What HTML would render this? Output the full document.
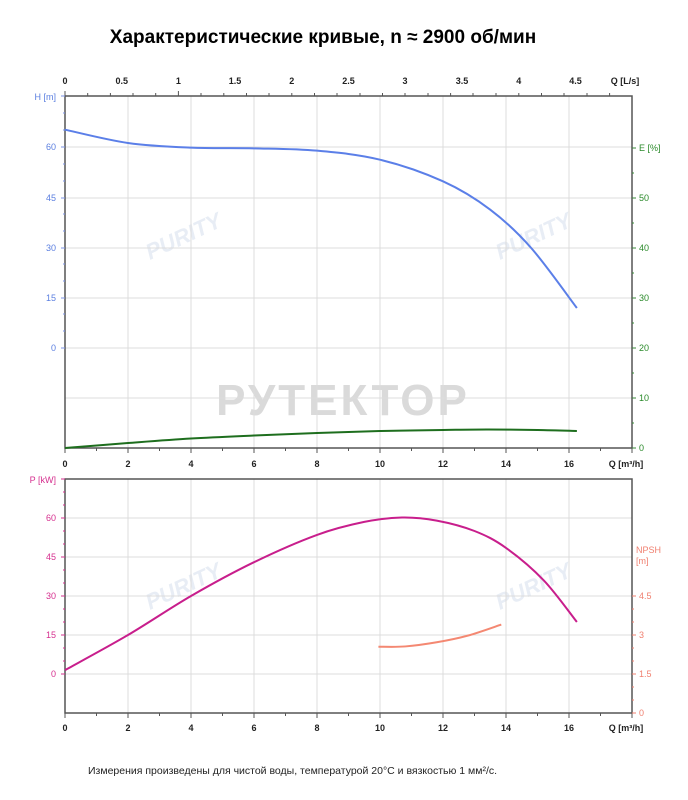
<!DOCTYPE html>
<html><head><meta charset="utf-8"><style>
body{margin:0;background:#fff;width:688px;height:800px;overflow:hidden}
svg{display:block;font-family:"Liberation Sans",sans-serif}
</style></head><body>
<svg width="688" height="800" viewBox="0 0 688 800">
<text x="323" y="43" text-anchor="middle" font-size="19" font-weight="bold" fill="#000">Характеристические кривые, n ≈ 2900 об/мин</text>
<text x="343" y="415" text-anchor="middle" font-size="44" font-weight="bold" fill="#dadada" letter-spacing="3">РУТЕКТОР</text>
<g fill="#e8edf5" font-size="22" font-weight="bold" font-style="italic">
<text x="150" y="260" transform="rotate(-25 150 260)">PURITY</text>
<text x="500" y="260" transform="rotate(-25 500 260)">PURITY</text>
<text x="150" y="610" transform="rotate(-25 150 610)">PURITY</text>
<text x="500" y="610" transform="rotate(-25 500 610)">PURITY</text>
</g>
<g stroke="#dcdcdc" stroke-width="1">
<path d="M128 96V448M191 96V448M254 96V448M317 96V448M380 96V448M443 96V448M506 96V448M569 96V448"/>
<path d="M65 147H632M65 198H632M65 248H632M65 298H632M65 348H632M65 398H632"/>
<path d="M128 479V713M191 479V713M254 479V713M317 479V713M380 479V713M443 479V713M506 479V713M569 479V713"/>
<path d="M65 518H632M65 557H632M65 596H632M65 635H632M65 674H632"/>
</g>
<g fill="none" stroke="#555" stroke-width="1.5">
<rect x="65" y="96" width="567" height="352"/>
<rect x="65" y="479" width="567" height="234"/>
</g>
<g stroke="#555" stroke-width="1">
<path d="M65 96v-5M87.7 96v-3M110.4 96v-3M133 96v-3M155.7 96v-3M178.4 96v-5M201 96v-3M223.8 96v-3M246.5 96v-3M269 96v-3M291.8 96v-3M314.5 96v-3M337 96v-3M360 96v-3M382.5 96v-3M405 96v-3M428 96v-3M450.6 96v-3M473 96v-3M496 96v-3M518.8 96v-3M541.5 96v-3M564 96v-3M587 96v-3M609.6 96v-3"/>
<path d="M65 448v5M96.5 448v3M128 448v5M159.5 448v3M191 448v5M222.5 448v3M254 448v5M285.5 448v3M317 448v5M348.5 448v3M380 448v5M411.5 448v3M443 448v5M474.5 448v3M506 448v5M537.5 448v3M569 448v5M600.5 448v3M632 448v5"/>
<path d="M65 713v5M96.5 713v3M128 713v5M159.5 713v3M191 713v5M222.5 713v3M254 713v5M285.5 713v3M317 713v5M348.5 713v3M380 713v5M411.5 713v3M443 713v5M474.5 713v3M506 713v5M537.5 713v3M569 713v5M600.5 713v3M632 713v5"/>
</g>
<g stroke="#7b93e6" stroke-width="1"><path d="M65 96h-4M65 147h-4M65 198h-4M65 248h-4M65 298h-4M65 348h-4M65 113h-2M65 130h-2M65 164h-2M65 181h-2M65 214h-2M65 231h-2M65 264h-2M65 281h-2M65 314h-2M65 331h-2"/></g>
<g stroke="#3a8a3a" stroke-width="1"><path d="M632 148h4M632 198h4M632 248h4M632 298h4M632 348h4M632 398h4M632 448h4M632 173h2M632 223h2M632 273h2M632 323h2M632 373h2M632 423h2"/></g>
<g stroke="#d6308f" stroke-width="1"><path d="M65 479h-4M65 518h-4M65 557h-4M65 596h-4M65 635h-4M65 674h-4M65 492h-2M65 505h-2M65 531h-2M65 544h-2M65 570h-2M65 583h-2M65 609h-2M65 622h-2M65 648h-2M65 661h-2"/></g>
<g stroke="#f08070" stroke-width="1"><path d="M632 596h4M632 635h4M632 674h4M632 713h4M632 609h2M632 622h2M632 648h2M632 661h2M632 687h2M632 700h2"/></g>
<g font-size="9" fill="#222" text-anchor="middle" font-weight="bold">
<text x="65" y="84">0</text><text x="121.7" y="84">0.5</text><text x="178.4" y="84">1</text><text x="235" y="84">1.5</text><text x="291.8" y="84">2</text><text x="348.5" y="84">2.5</text><text x="405" y="84">3</text><text x="462" y="84">3.5</text><text x="518.8" y="84">4</text><text x="575.5" y="84">4.5</text><text x="625" y="84">Q [L/s]</text>
<text x="65" y="467">0</text><text x="128" y="467">2</text><text x="191" y="467">4</text><text x="254" y="467">6</text><text x="317" y="467">8</text><text x="380" y="467">10</text><text x="443" y="467">12</text><text x="506" y="467">14</text><text x="569" y="467">16</text><text x="626" y="467">Q [m³/h]</text>
<text x="65" y="731">0</text><text x="128" y="731">2</text><text x="191" y="731">4</text><text x="254" y="731">6</text><text x="317" y="731">8</text><text x="380" y="731">10</text><text x="443" y="731">12</text><text x="506" y="731">14</text><text x="569" y="731">16</text><text x="626" y="731">Q [m³/h]</text>
</g>
<g font-size="9" fill="#5b7fe0" text-anchor="end">
<text x="56" y="100">H [m]</text><text x="56" y="150">60</text><text x="56" y="201">45</text><text x="56" y="251">30</text><text x="56" y="301">15</text><text x="56" y="351">0</text>
</g>
<g font-size="9" fill="#2a8a2a">
<text x="639" y="151">E [%]</text><text x="639" y="201">50</text><text x="639" y="251">40</text><text x="639" y="301">30</text><text x="639" y="351">20</text><text x="639" y="401">10</text><text x="639" y="451">0</text>
</g>
<g font-size="9" fill="#d6308f" text-anchor="end">
<text x="56" y="483">P [kW]</text><text x="56" y="521">60</text><text x="56" y="560">45</text><text x="56" y="599">30</text><text x="56" y="638">15</text><text x="56" y="677">0</text>
</g>
<g font-size="9" fill="#f08070">
<text x="636" y="553">NPSH</text><text x="636" y="564">[m]</text><text x="639" y="599">4.5</text><text x="639" y="638">3</text><text x="639" y="677">1.5</text><text x="639" y="716">0</text>
</g>
<path id="cH" fill="none" stroke="#5b7fe8" stroke-width="2"/>
<path id="cE" fill="none" stroke="#1e6e1e" stroke-width="2"/>
<path id="cP" fill="none" stroke="#c81e8c" stroke-width="2"/>
<path id="cN" fill="none" stroke="#f48872" stroke-width="2"/>
<text x="88" y="774" font-size="10.5" fill="#222">Измерения произведены для чистой воды, температурой 20°C и вязкостью 1 мм²/с.</text>
</svg>
<script>
function cr(p){var d="M"+p[0][0]+" "+p[0][1];for(var i=0;i<p.length-1;i++){var a=p[i-1]||p[i],b=p[i],c=p[i+1],e=p[i+2]||c;d+="C"+(b[0]+(c[0]-a[0])/6)+" "+(b[1]+(c[1]-a[1])/6)+" "+(c[0]-(e[0]-b[0])/6)+" "+(c[1]-(e[1]-b[1])/6)+" "+c[0]+" "+c[1];}return d;}
function X(q){return 65+31.5*q}
function set(id,pts,f){document.getElementById(id).setAttribute("d",cr(pts.map(function(p){return[X(p[0]),f(p[1])]})))}
set("cH",[[0,65.5],[2,61.5],[4,60.1],[6,59.9],[8,59.2],[10,56.5],[12,50],[13.5,41.5],[14.8,30],[16.25,12]],function(h){return 348-h*50/15});
set("cE",[[0,0],[2,1],[4,1.9],[6,2.5],[8,3],[10,3.4],[12,3.6],[13.4,3.7],[15,3.6],[16.25,3.4]],function(e){return 448-5*e});
set("cP",[[0,1.5],[2,15],[4,30],[6,43],[8,53.5],[9.5,58.5],[10.7,60.2],[11.8,59],[13,55],[14,48.5],[15.2,36],[16.25,20]],function(p){return 674-p*39/15});
set("cN",[[9.95,2.55],[10.8,2.56],[11.8,2.72],[12.8,2.98],[13.85,3.4]],function(n){return 713-n*26});
</script>
</body></html>
